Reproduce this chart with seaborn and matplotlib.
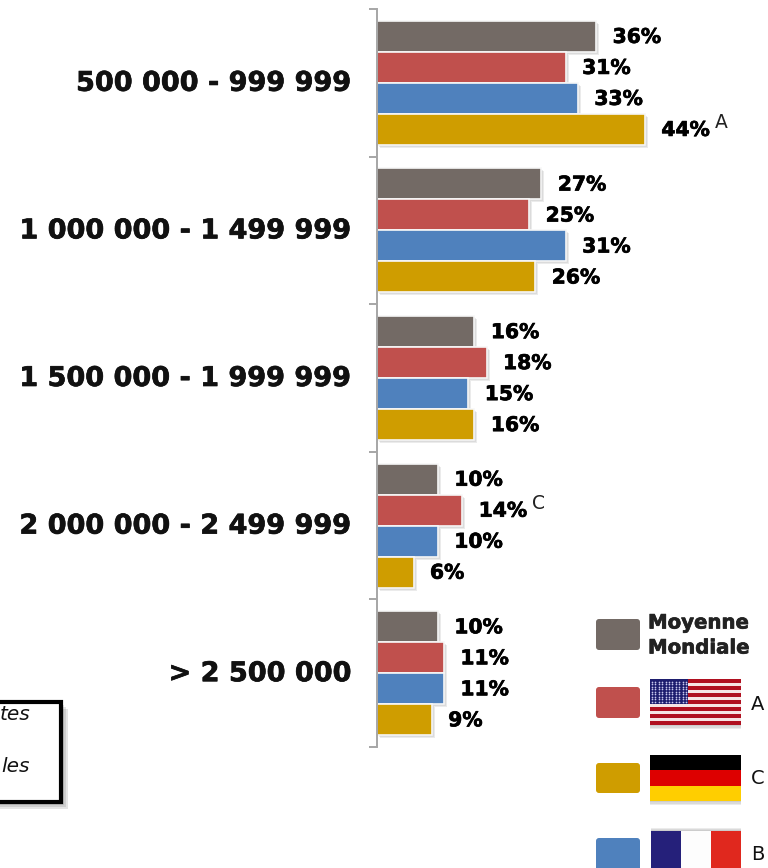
import numpy as np
import pandas as pd
import seaborn as sns
import matplotlib
matplotlib.use("Agg")
import matplotlib.pyplot as plt
from matplotlib import patheffects as pe
from matplotlib.patches import FancyBboxPatch, Rectangle
from matplotlib.transforms import ScaledTranslation

categories = ["500 000 - 999 999", "1 000 000 - 1 499 999", "1 500 000 - 1 999 999",
              "2 000 000 - 2 499 999", "> 2 500 000"]
series_names = ["Moyenne Mondiale", "A", "B", "C"]
moyenne = [36, 27, 16, 10, 10]
serie_a = [31, 25, 18, 14, 11]
serie_b = [33, 31, 15, 10, 11]
serie_c = [44, 26, 16, 6, 9]
colors = ["#736A65", "#C0504D", "#4F81BD", "#CF9D00"]
# superscript significance letters: (series index, category index, letter)
notes = [(3, 0, "A"), (1, 3, "C")]

W, H = 768, 868
sns.set_theme(style="white")
plt.rcParams["font.family"] = ["DejaVu Sans"]

df = pd.DataFrame({
    "cat": categories * 4,
    "serie": np.repeat(series_names, 5),
    "val": moyenne + serie_a + serie_b + serie_c,
})


def soft_shadow(dx, dy, color, alpha, steps=3):
    fx = []
    for k in range(steps, 0, -1):
        fx.append(pe.SimplePatchShadow(offset=(dx * k / steps, -dy * k / steps),
                                       shadow_rgbFace=color, alpha=alpha))
    fx.append(pe.Normal())
    return fx


def heavy(color):
    return [pe.withStroke(linewidth=0.5, foreground=color)]


fig = plt.figure(figsize=(W / 100, H / 100), dpi=100, facecolor="white")
ax = fig.add_axes([377 / W, 1 - 747 / H, (W - 377) / W, (747 - 9) / H])
ax.patch.set_alpha(0)

sns.barplot(data=df, y="cat", x="val", hue="serie", order=categories, hue_order=series_names,
            palette=colors, width=0.84, saturation=1, legend=False, ax=ax,
            edgecolor="#F7F7F7", linewidth=1.2)
ax.set_xlim(0, (W - 377) / 6.09)
ax.set_ylim(4.5, -0.5)
ax.set_xlabel("")
ax.set_ylabel("")

shadow = soft_shadow(2.2, 2.2, "#888888", 0.16)
for container in ax.containers:
    for bar in container:
        bar.set_path_effects(shadow)
    texts = ax.bar_label(container, labels=[f"{v:.0f}%" for v in container.datavalues], padding=11.8,
                         fontsize=14.6, fontweight="bold", color="black")
    for t in texts:
        t.xyann = (t.xyann[0], -0.8)
        t.set_path_effects(heavy("black"))

for si, ci, letter in notes:
    bar = ax.containers[si][ci]
    ax.annotate(letter, (bar.get_width(), bar.get_y() + bar.get_height() / 2),
                xytext=(50.5, 5), textcoords="offset points", fontsize=13.5, color="#222222",
                va="center", ha="left", annotation_clip=False)

for s in ["top", "right", "bottom"]:
    ax.spines[s].set_visible(False)
ax.spines["left"].set_color("#A6A6A6")
ax.spines["left"].set_linewidth(1.4)
ax.set_xticks([])
ax.set_yticks(range(len(categories)))
ax.set_yticklabels(categories, fontsize=19.5, fontweight="bold", color="#111111")
ax.set_yticks(np.arange(-0.5, len(categories)), minor=True)
ax.tick_params(axis="y", which="major", length=0, pad=18.5, left=True)
ax.tick_params(axis="y", which="minor", length=6, width=1.4, color="#A6A6A6", left=True)
shift_up = ScaledTranslation(0, 2 / 100, fig.dpi_scale_trans)
for lab in ax.get_yticklabels():
    lab.set_transform(lab.get_transform() + shift_up)
    lab.set_path_effects(heavy("#111111"))

# overlay in pixel units for the hand-placed legend and note box
ov = fig.add_axes([0, 0, 1, 1], zorder=5)
ov.set_xlim(0, W)
ov.set_ylim(H, 0)
ov.axis("off")
ov.patch.set_alpha(0)

# cropped note box
box = Rectangle((-10, 702), 71, 100, facecolor="white", edgecolor="black", linewidth=3,
                path_effects=soft_shadow(5, 5, "#444444", 0.14, steps=4))
ov.add_patch(box)
ov.text(30, 715, "tes", ha="right", va="center", style="italic", fontsize=14.5, color="#111111")
ov.text(30, 766, "les", ha="right", va="center", style="italic", fontsize=14.5, color="#111111")

# legend swatches
for y0, y1, c in [(619, 650, colors[0]), (687, 718, colors[1]), (763, 793, colors[3]), (838, 876, colors[2])]:
    ov.add_patch(FancyBboxPatch((598, y0 + 2), 40, y1 - y0 - 4, boxstyle="round,pad=2,rounding_size=3",
                                facecolor=c, edgecolor="none"))
for y, word in [(623, "Moyenne"), (648, "Mondiale")]:
    ov.text(648, y, word, fontsize=14.2, fontweight="bold", color="#222222", va="center", ha="left",
            path_effects=heavy("#222222"))
for y, letter in [(704, "A"), (779, "C"), (854, "B")]:
    ov.text(751, y, letter, fontsize=14, color="#111111", va="center", ha="left")

flag_shadow = soft_shadow(0, 3, "#777777", 0.14)


def rect(x, y, w, h, c, fx=None):
    r = Rectangle((x, y), w, h, facecolor=c, edgecolor="none")
    if fx:
        r.set_path_effects(fx)
    ov.add_patch(r)


# USA flag
fx, fy, fw, fh = 650, 679, 91, 46
rect(fx, fy, fw, fh, "#F6E4E4", flag_shadow)
for i in range(13):
    if i % 2 == 0:
        rect(fx, fy + i * fh / 13, fw, fh / 13, "#B01020")
rect(fx, fy, 38, 25, "#1E1E6E")
sx = [fx + 2 + i * 3.4 for i in range(11)]
sy = [fy + 2.5 + j * 2.5 for j in range(9)]
ov.scatter(np.repeat(sx, 9), np.tile(sy, 11), s=1.5, color="#C8C8EE", linewidths=0)

# German flag
fy = 755
rect(fx, fy, fw, 46, "black", flag_shadow)
rect(fx, fy + 15.3, fw, 15.4, "#DD0000")
rect(fx, fy + 30.7, fw, 15.3, "#FFCE00")

# French flag
fy = 831
rect(fx + 1, fy, 90, 46, "#FDFDFD", soft_shadow(0, -2, "#777777", 0.14))
rect(fx + 1, fy, 30, 46, "#25207A")
rect(fx + 61, fy, 30, 46, "#E0281E")

fig.savefig("out.png", dpi=100)
